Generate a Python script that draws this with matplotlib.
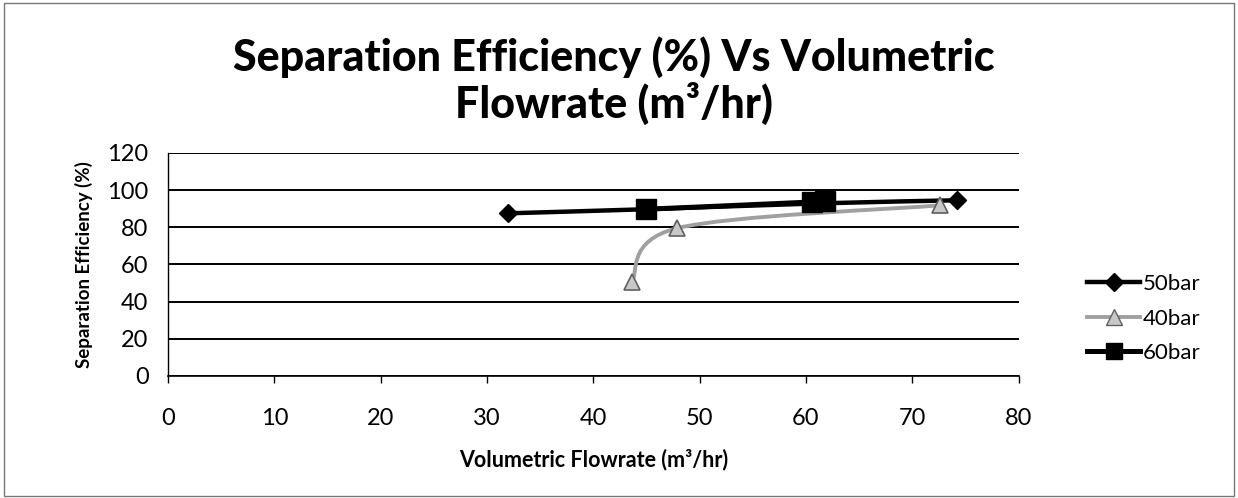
import numpy as np
import matplotlib
matplotlib.use("Agg")
import matplotlib.pyplot as plt
from matplotlib.path import Path
from matplotlib.patches import PathPatch, Rectangle
from matplotlib.lines import Line2D

# data
flow_50 = [32.0, 45.0, 61.0, 74.2]
eff_50 = [87.5, 89.7, 92.8, 94.5]
flow_40 = [43.6, 47.9, 72.6]
eff_40 = [50.5, 79.5, 91.8]
flow_60 = [45.0, 60.6, 61.8]
eff_60 = [89.7, 93.6, 94.2]
series_names = ["50bar", "40bar", "60bar"]
x_ticks = [0, 10, 20, 30, 40, 50, 60, 70, 80]
y_ticks = [0, 20, 40, 60, 80, 100, 120]

plt.rcParams["font.family"] = ["Lato", "DejaVu Sans"]


def smooth_path(xs, ys):
    # Excel style smoothed line: cubic bezier through every point
    pts = np.column_stack([xs, ys]).astype(float)
    n = len(pts)
    verts = [pts[0]]
    codes = [Path.MOVETO]
    for i in range(n - 1):
        p_prev = pts[i - 1] if i > 0 else pts[i]
        p_next2 = pts[i + 2] if i + 2 < n else pts[i + 1]
        c1 = pts[i] + (pts[i + 1] - p_prev) / 6
        c2 = pts[i + 1] - (p_next2 - pts[i]) / 6
        verts += [c1, c2, pts[i + 1]]
        codes += [Path.CURVE4] * 3
    return Path(verts, codes)


fig = plt.figure(figsize=(12.38, 4.98), dpi=100)
ax = fig.add_axes([0.1357, 0.245, 0.687, 0.448])

ax.add_patch(PathPatch(smooth_path(flow_50, eff_50), fill=False, ec="black", lw=3.2, zorder=3))
ax.add_patch(PathPatch(smooth_path(flow_40, eff_40), fill=False, ec="#a0a0a0", lw=2.8, zorder=3))
ax.add_patch(PathPatch(smooth_path(flow_60, eff_60), fill=False, ec="black", lw=3.6, zorder=3))
ax.plot([flow_50[0], flow_50[-1]], [eff_50[0], eff_50[-1]], ls="none", marker="D", ms=9,
        color="black", zorder=5)
ax.plot(flow_40, eff_40, ls="none", marker="^", ms=12, mfc="#c8c8c8", mec="#606060",
        mew=1.2, zorder=4)
ax.plot(flow_60, eff_60, ls="none", marker="s", ms=14, color="black", zorder=6)

ax.set_xlim(0, 80)
ax.set_ylim(0, 120)
ax.set_xticks(x_ticks)
ax.set_yticks(y_ticks)
ax.tick_params(axis="x", labelsize=17, length=5, width=1, pad=18, direction="out")
ax.tick_params(axis="y", labelsize=17, length=0, pad=14)
ax.grid(axis="y", color="black", lw=1.4)
ax.set_axisbelow(True)
for side in ["top", "right"]:
    ax.spines[side].set_visible(False)
ax.spines["left"].set_linewidth(1)
ax.spines["bottom"].set_linewidth(1.2)

ax.set_xlabel("Volumetric Flowrate (m\u00b3/hr)", fontsize=15.5, fontweight="bold", labelpad=14)
ax.set_ylabel("Separation Efficiency (%)", fontsize=13.5, fontweight="bold", labelpad=10)

fig.text(0.496, 0.885, "Separation Efficiency (%) Vs Volumetric", ha="center", va="center",
         fontsize=31, fontweight="black")
fig.text(0.496, 0.793, "Flowrate (m\u00b3/hr)", ha="center", va="center",
         fontsize=31, fontweight="black")

handles = [
    Line2D([], [], color="black", lw=3.2, marker="D", ms=9),
    Line2D([], [], color="#a0a0a0", lw=2.8, marker="^", ms=12, mfc="#c8c8c8", mec="#606060"),
    Line2D([], [], color="black", lw=3.6, marker="s", ms=12),
]
fig.legend(handles, series_names, loc="center left", bbox_to_anchor=(0.862, 0.36),
           frameon=False, fontsize=16, handlelength=2.4, handletextpad=0.1,
           labelspacing=0.65)

fig.add_artist(Rectangle((0.003, 0.004), 0.994, 0.99, transform=fig.transFigure,
                         fill=False, ec="#777777", lw=1))

fig.savefig("out.png", dpi=100)
